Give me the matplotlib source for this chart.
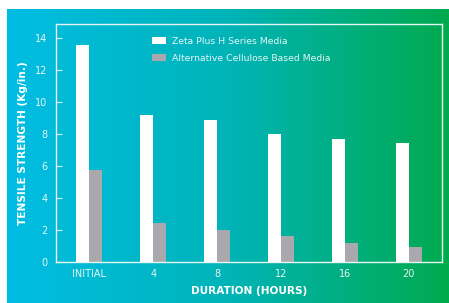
import matplotlib
matplotlib.use('Agg')
import matplotlib.pyplot as plt
import numpy as np
from matplotlib.colors import LinearSegmentedColormap

# data
durations = ['INITIAL', '4', '8', '12', '16', '20']
zeta_plus = [13.6, 9.2, 8.9, 8.0, 7.7, 7.45]
alternative = [5.75, 2.45, 2.0, 1.63, 1.2, 0.95]
series_names = ['Zeta Plus H Series Media', 'Alternative Cellulose Based Media']
y_ticks = [0, 2, 4, 6, 8, 10, 12, 14]

light = '#e6f6f4'

fig = plt.figure(figsize=(4.49, 3.03), dpi=100)
fig.patch.set_facecolor('white')

# gradient background
bg = fig.add_axes([7 / 449, 0, 1 - 7 / 449, (303 - 9) / 303])
cmap = LinearSegmentedColormap.from_list('bg', ['#00bde3', '#00b4b8', '#00aa4e'])
bg.imshow(np.linspace(0, 1, 256).reshape(1, -1), aspect='auto', cmap=cmap,
          extent=[0, 1, 0, 1])
bg.set_axis_off()

ax = fig.add_axes([56 / 449, (303 - 262) / 303, (442 - 56) / 449, (262 - 24) / 303])
ax.patch.set_alpha(0)

x = np.arange(len(durations))
w = 0.2
ax.bar(x - w / 2, zeta_plus, w, color='white', label=series_names[0])
ax.bar(x + w / 2, alternative, w, color='#a9a9ad', label=series_names[1])

ax.set_xlim(-0.52, 5.52)
ax.set_ylim(0, 14.9)
ax.set_xticks(x)
ax.set_xticklabels(durations)
ax.set_yticks(y_ticks)

for s in ax.spines.values():
    s.set_color(light)
    s.set_linewidth(1.0)

ax.tick_params(axis='y', direction='in', length=4, width=0.8, color=light,
               labelcolor=light, labelsize=7, pad=6)
ax.tick_params(axis='x', length=0, labelcolor=light, labelsize=7, pad=5)

ax.set_ylabel('TENSILE STRENGTH (Kg/in.)', color='white', fontsize=7.6,
              fontweight='bold', labelpad=5)
ax.set_xlabel('DURATION (HOURS)', color='white', fontsize=7.6,
              fontweight='bold', labelpad=5)

leg = ax.legend(loc='upper left', bbox_to_anchor=(0.249, 0.945), frameon=False,
                fontsize=6.7, handlelength=1.5, handleheight=0.75, labelspacing=0.85,
                borderpad=0, borderaxespad=0, handletextpad=0.6)
for t in leg.get_texts():
    t.set_color(light)

fig.savefig('out.png', dpi=100)
